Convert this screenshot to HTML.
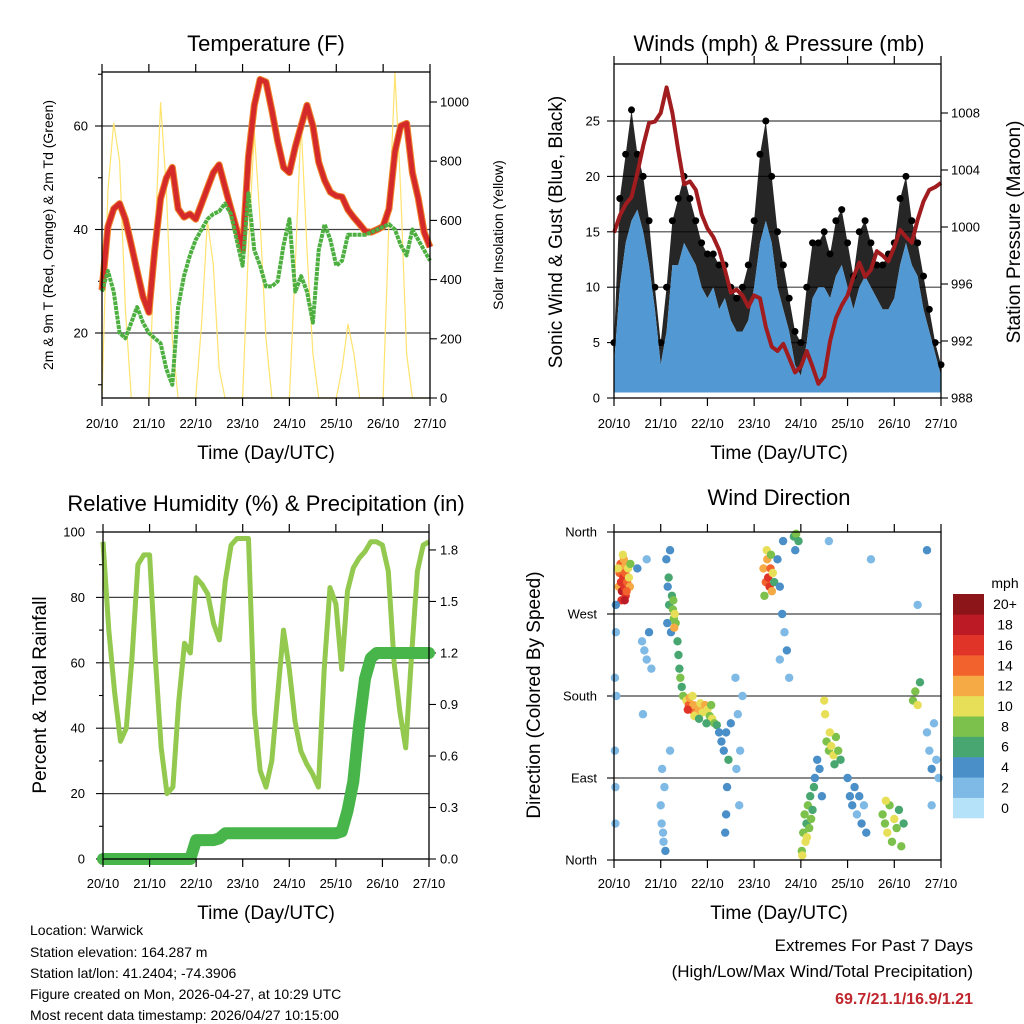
<!DOCTYPE html>
<html><head><meta charset="utf-8">
<style>
html,body{margin:0;padding:0;background:#fff;}
svg{display:block;font-family:"Liberation Sans",sans-serif;}
</style></head>
<body>
<svg id="c" width="1024" height="1024" viewBox="0 0 1024 1024" xmlns="http://www.w3.org/2000/svg">
<rect x="0" y="0" width="1024" height="1024" fill="#fff"/>
<text x="266" y="51" font-size="22" text-anchor="middle">Temperature (F)</text>
<text x="779" y="51" font-size="22" text-anchor="middle">Winds (mph) &amp; Pressure (mb)</text>
<text x="266" y="511" font-size="22" text-anchor="middle">Relative Humidity (%) &amp; Precipitation (in)</text>
<text x="779" y="505" font-size="22" text-anchor="middle">Wind Direction</text>
<text x="266" y="459" font-size="19" text-anchor="middle">Time (Day/UTC)</text>
<text x="779" y="459" font-size="19" text-anchor="middle">Time (Day/UTC)</text>
<text x="266" y="919" font-size="19" text-anchor="middle">Time (Day/UTC)</text>
<text x="779" y="919" font-size="19" text-anchor="middle">Time (Day/UTC)</text>
<text transform="translate(53,235) rotate(-90)" font-size="14" text-anchor="middle">2m &amp; 9m T (Red, Orange) &amp; 2m Td (Green)</text>
<text transform="translate(503,235) rotate(-90)" font-size="14" text-anchor="middle">Solar Insolation (Yellow)</text>
<text transform="translate(562,232) rotate(-90)" font-size="19" text-anchor="middle">Sonic Wind &amp; Gust (Blue, Black)</text>
<text transform="translate(1020,232) rotate(-90)" font-size="19" text-anchor="middle">Station Pressure (Maroon)</text>
<text transform="translate(46,695) rotate(-90)" font-size="19" text-anchor="middle">Percent &amp; Total Rainfall</text>
<text transform="translate(540,695) rotate(-90)" font-size="19" text-anchor="middle">Direction (Colored By Speed)</text>
<g font-size="14">
<text x="30" y="935">Location: Warwick</text>
<text x="30" y="957">Station elevation: 164.287 m</text>
<text x="30" y="978">Station lat/lon: 41.2404; -74.3906</text>
<text x="30" y="999">Figure created on Mon, 2026-04-27, at 10:29 UTC</text>
<text x="30" y="1020">Most recent data timestamp: 2026/04/27 10:15:00</text>
</g>
<g>
<text x="973" y="951" font-size="17" text-anchor="end">Extremes For Past 7 Days</text>
<text x="973" y="977" font-size="17" text-anchor="end">(High/Low/Max Wind/Total Precipitation)</text>
<text x="973" y="1004" font-size="16" font-weight="bold" fill="#c0262d" text-anchor="end">69.7/21.1/16.9/1.21</text>
</g>
<g id="plots"></g>
</svg>
<script>
const dayLabels = ['20/10','21/10','22/10','23/10','24/10','25/10','26/10','27/10'];
const tempTicks = [20,40,60];
const solarTicks = [0,200,400,600,800,1000];
const windTicks = [0,5,10,15,20,25];
const pressTicks = [988,992,996,1000,1004,1008];
const rhTicks = [0,20,40,60,80,100];
const precipTicks = ['0.0','0.3','0.6','0.9','1.2','1.5','1.8'];
const dirTicks = ['North','East','South','West','North'];
const speedLabels = ['0','2','4','6','8','10','12','14','16','18','20+'];
const speedColors = ['#b5e2f8','#7fb9e5','#4a8fc8','#48a770','#7bc14b','#e7df58','#f6aa45','#f1622c','#df3427','#bc1b25','#8b1519'];

const tempT = [28.3,40.5,44,45,42,37,32,27,24,36,46,50,52,44,42.4,43,42,45,48,51,52.5,48.2,44,40,36,54,64,69,68.5,63,57,52,51,56,60,64,60,53,49.5,47.2,46.5,46.3,43.8,42.3,41,39.6,39.5,40,40.6,44,55,60,60.5,51,46,39.5,36.6];
const tempTd = [28,32,28,20,19,22,25,22,20,19,18,13,10,25,31,35,38,40,42,43,43.5,45,43,38,33,47,36,33,29,29,30,37,42,28,31,28,22,36,41,38,33,34,39,39,39,39,39.5,40,40.5,41,40,37,35,40,38,36,34];
const solar = [0,700,930,800,300,0,0,0, 0,500,1000,700,200,0,0,0, 0,250,600,450,100,0,0,0, 0,500,900,600,200,0,0,0, 0,450,930,500,150,0,0,0, 0,100,250,150,0,0,0,0, 0,600,1100,700,150,0,0,0, 0];
const windBlue = [3,10,14,16,17,15,12,8,3,6,12,12,14,13,12,10,9,10,8,9,7,6,6,7,10,14,16,14,10,8,6,3,2,5,9,10,10,9,11,12,10,8,10,11,10,9,8,8,9,12,14,12,11,8,6,4,2];
const windGust = [5,18,22,26,22,20,16,10,5,10,16,18,20,18,16,14,13,13,12,12,10,9,10,12,16,22,25,20,15,12,9,6,5,10,14,14,15,13,16,17,14,11,15,16,14,12,12,13,14,18,20,16,14,11,8,5,3];
const pressure = [999.6,1000.8,1001.6,1002.1,1003.8,1005.7,1007.3,1007.4,1008,1009.8,1008,1005.4,1003,1003.2,1002.6,1000.9,999.9,999.3,998.4,997,995.4,995.6,995.2,994.4,995.2,995,993,991.6,991.3,991.8,990.8,989.8,990.2,991.3,990.2,989,989.5,992,993.6,994.5,995.2,996.5,997.5,996.5,997,998.3,998,997.6,998.6,999.8,999.3,998.9,1000.5,1001.8,1002.6,1002.8,1003.1];
const rh = [97,70,51,36,40,62,90,93,93,61,34,20,22,48,66,63,86,84,81,72,67,85,96,98,98,98,45,27,22,30,50,70,58,42,33,29,26,22,58,83,78,58,82,89,92,94,97,97,96,88,60,45,34,62,88,96,97];
const precip = [0,0,0,0,0,0,0,0,0,0,0,0,0,0,0,0,0.11,0.11,0.11,0.11,0.12,0.15,0.15,0.15,0.15,0.15,0.15,0.15,0.15,0.15,0.15,0.15,0.15,0.15,0.15,0.15,0.15,0.15,0.15,0.15,0.15,0.16,0.28,0.45,0.78,1.05,1.17,1.2,1.2,1.2,1.2,1.2,1.2,1.2,1.2,1.2,1.2];
const dirObs = [
[0.1,300,12],[0.12,315,13],[0.14,325,14],[0.15,305,16],[0.17,295,17],[0.18,320,12],[0.2,310,15],[0.21,330,11],[0.22,300,16],[0.24,315,13],[0.25,290,15],[0.26,325,12],[0.28,305,14],[0.3,320,10],[0.32,310,9],[0.34,300,11],[0.16,285,16],[0.23,285,17],[0.19,335,10],[0.27,295,13],[0.08,320,10],[0.35,325,7],
[0.02,120,1],[0.03,80,2],[0.02,200,1],[0.04,250,2],[0.03,40,1],[0.05,180,1],[0.04,280,3],
[0.6,240,2],[0.65,230,2],[0.7,220,1],[0.75,250,3],[0.8,210,1],[0.7,330,2],[0.62,160,1],
[1.0,60,2],[1.02,40,1],[1.05,30,2],[1.08,80,1],[1.03,100,2],[1.06,20,1],[1.1,10,3],
[1.12,330,4],[1.15,300,4],[1.18,280,5],[1.2,340,4],[1.14,260,3],[1.22,250,4],[1.17,310,5],[1.24,290,6],
[1.26,275,8],[1.28,265,8],[1.3,270,9],[1.27,285,7],[1.32,260,7],[1.29,255,12],
[1.36,240,6],[1.38,225,6],[1.4,210,6],[1.42,200,7],[1.45,190,6],[1.48,180,8],
[1.55,175,10],[1.6,170,13],[1.65,165,14],[1.7,170,12],[1.75,160,11],[1.8,168,12],[1.85,172,10],[1.9,162,9],[1.95,170,11],[2.0,165,10],[2.05,158,8],[2.1,155,9],[2.15,150,7],[2.2,148,5],[2.25,140,4],[1.62,178,11],[1.72,158,9],[1.82,155,6],[1.98,150,5],[2.08,170,8],[1.58,165,16],[1.68,180,10],
[2.3,130,4],[2.35,120,3],[2.4,140,4],[2.45,110,5],[2.5,150,3],[2.42,80,4],[2.4,50,4],[2.38,30,3],
[2.6,200,1],[2.65,160,1],[2.7,120,2],[2.75,180,1],[2.62,100,2],[2.68,60,2],
[3.2,320,12],[3.25,305,14],[3.28,330,11],[3.3,310,16],[3.33,300,15],[3.35,320,13],[3.38,295,12],[3.4,315,10],[3.22,290,8],[3.27,340,9],[3.36,335,8],[3.43,305,6],
[3.5,330,4],[3.55,300,3],[3.6,270,4],[3.65,250,2],[3.7,230,3],[3.55,220,2],[3.75,200,2],[3.62,350,4],
[3.85,355,6],[3.9,358,7],[3.88,340,4],[3.95,350,6],
[4.02,10,7],[4.05,30,8],[4.08,50,7],[4.1,20,9],[4.12,40,6],[4.15,60,8],[4.18,35,7],[4.2,70,6],[4.22,45,8],[4.25,55,5],[4.03,5,10],[4.13,25,10],[4.28,80,6],
[4.3,90,4],[4.35,110,4],[4.4,100,3],[4.45,70,4],
[4.55,130,8],[4.6,120,7],[4.65,125,10],[4.7,115,9],[4.75,135,8],[4.8,120,7],[4.85,110,6],[4.62,140,9],[4.72,105,5],[4.5,175,9],[4.52,160,10],
[5.0,90,4],[5.05,70,3],[5.1,60,4],[5.15,80,3],[5.2,50,2],[5.25,70,4],[5.3,40,3],[5.35,60,2],[5.4,30,4],
[5.75,50,8],[5.8,40,7],[5.85,30,9],[5.9,60,8],[5.95,20,7],[6.0,45,9],[6.05,35,8],[6.1,55,6],[6.15,15,7],[6.2,40,5],[5.82,65,10],
[6.4,175,8],[6.45,185,7],[6.5,170,10],[6.55,195,6],
[6.7,140,2],[6.75,120,2],[6.8,100,3],[6.85,150,2],[6.9,110,1],[6.95,90,2],[6.8,60,2],
[0.5,320,3],[5.5,330,2],[4.6,350,1],[6.7,340,3],[1.2,120,2],[6.5,280,2]
];

const NS='http://www.w3.org/2000/svg';
const root=document.getElementById('plots');
function mk(tag,attrs,parent){const e=document.createElementNS(NS,tag);for(const k in attrs)e.setAttribute(k,attrs[k]);(parent||root).appendChild(e);return e;}
const tOf = i => i*3/24;

function panel(name){
  const g=mk('g',{});
  
  
  return g;
}
function frame(g,L,R,T,B,name){
  const r=mk('rect',{x:L,y:T,width:R-L,height:B-T,fill:'none',stroke:'#000','stroke-width':1.3},g);
  
  
}
function xAxis(g,L,R,T,B,labY){
  for(let d=0;d<=7;d++){
    const x=L+d/7*(R-L);
    mk('line',{x1:x,x2:x,y1:T-8,y2:T,stroke:'#000','stroke-width':1.2},g);
    mk('line',{x1:x,x2:x,y1:B,y2:B+8,stroke:'#000','stroke-width':1.2},g);
    const t=mk('text',{x:x,y:labY,'font-size':13,'text-anchor':'middle'},g);
    t.textContent=dayLabels[d];
    
    
  }
}
function grid(g,L,R,y){
  mk('line',{x1:L,x2:R,y1:y,y2:y,stroke:'#222','stroke-width':1.2,'stroke-opacity':0.85},g);
}
function yLabel(g,x,y,txt,anchor,size){
  const t=mk('text',{x:x,y:y+4.5,'font-size':size||13,'text-anchor':anchor},g);
  t.textContent=txt;
  
  
}
function tick(g,x1,x2,y){mk('line',{x1:x1,x2:x2,y1:y,y2:y,stroke:'#000','stroke-width':1.1},g);}
function pts(arr,xf,yf){return arr.map((v,i)=>xf(tOf(i)).toFixed(1)+','+yf(v).toFixed(1)).join(' ');}

{
  const L=102,R=430,T=72,B=398;
  const x1=t=>L+t/7*(R-L);
  const yT=v=>333-(v-20)*5.175;
  const yS=v=>B-v*0.296;
  const g=panel('temperature-panel');
  tempTicks.forEach(v=>{grid(g,L,R,yT(v));tick(g,L-7,L,yT(v));yLabel(g,L-14,yT(v),String(v),'end');});
  [10,30,50,70].forEach(v=>tick(g,L-4,L,yT(v)));
  solarTicks.forEach(v=>{tick(g,R,R+7,yS(v));yLabel(g,R+10,yS(v),String(v),'start');});
  const sl=mk('polyline',{points:pts(solar,x1,yS),fill:'none',stroke:'#ffe36e','stroke-width':1.2},g);
  
  
  const o=mk('polyline',{points:pts(tempT,x1,yT),fill:'none',stroke:'#f0852c','stroke-width':7,'stroke-linejoin':'round'},g);
  
  
  const r=mk('polyline',{points:pts(tempT,x1,yT),fill:'none',stroke:'#d42a2a','stroke-width':5,'stroke-linejoin':'round'},g);
  
  
  const d=mk('polyline',{points:pts(tempTd,x1,yT),fill:'none',stroke:'#4caf40','stroke-width':4,'stroke-dasharray':'4 0.8','stroke-linejoin':'round'},g);
  
  
  frame(g,L,R,T,B,'temperature-plot-frame');
  xAxis(g,L,R,T,B,428);
}
{
  const L=614,R=941,T=64,B=398;
  const x2=t=>L+t/7*(R-L);
  const yW=v=>B-v*11.08;
  const yP=v=>B-(v-988)*14.25;
  const g=panel('winds-panel');
  windTicks.forEach(v=>{if(v>0)grid(g,L,R,yW(v));tick(g,L-7,L,yW(v));yLabel(g,L-14,yW(v),String(v),'end');});
  pressTicks.forEach(v=>{tick(g,R,R+7,yP(v));yLabel(g,R+10,yP(v),String(v),'start');});
  const top=windGust.map((v,i)=>x2(tOf(i)).toFixed(1)+','+yW(v).toFixed(1));
  const mid=windBlue.map((v,i)=>x2(tOf(i)).toFixed(1)+','+yW(v).toFixed(1)).reverse();
  const ga=mk('polygon',{points:top.concat(mid).join(' '),fill:'#000','fill-opacity':0.85},g);
  
  
  windGust.forEach((v,i)=>{
    const c=mk('circle',{cx:x2(tOf(i)),cy:yW(v),r:3.5,fill:'#000'},g);
    
    
  });
  const bt=windBlue.map((v,i)=>x2(tOf(i)).toFixed(1)+','+yW(v).toFixed(1));
  const ba=mk('polygon',{points:bt.concat([x2(7)+','+yW(0.5),x2(0)+','+yW(0.5)]).join(' '),fill:'#5299d3'},g);
  
  
  const p=mk('polyline',{points:pts(pressure,x2,yP),fill:'none',stroke:'#a01c1f','stroke-width':4,'stroke-linejoin':'round'},g);
  
  
  frame(g,L,R,T,B,'winds-plot-frame');
  xAxis(g,L,R,T,B,428);
}
{
  const L=103,R=429,T=532,B=859;
  const x3=t=>L+t/7*(R-L);
  const yR=v=>B-v*3.27;
  const yPr=v=>B-v*171.7;
  const g=panel('humidity-panel');
  rhTicks.forEach(v=>{if(v>0&&v<100)grid(g,L,R,yR(v));tick(g,L-7,L,yR(v));yLabel(g,L-18,yR(v),String(v),'end');});
  [10,30,50,70,90].forEach(v=>tick(g,L-4,L,yR(v)));
  precipTicks.forEach(s=>{const v=parseFloat(s);tick(g,R,R+7,yPr(v));yLabel(g,R+11,yPr(v),s,'start');});
  const h=mk('polyline',{points:pts(rh,x3,yR),fill:'none',stroke:'#92c94e','stroke-width':5,'stroke-linejoin':'round'},g);
  
  
  const pr=mk('polyline',{points:pts(precip,x3,yPr),fill:'none',stroke:'#47b549','stroke-width':12,'stroke-linejoin':'round','stroke-linecap':'round'},g);
  
  
  frame(g,L,R,T,B,'humidity-plot-frame');
  xAxis(g,L,R,T,B,888);
}
{
  const L=614,R=941,T=532,B=860;
  const x4=t=>L+t/7*(R-L);
  const yD=d=>B-d/360*(B-T);
  const g=panel('wind-direction-panel');
  dirTicks.forEach((s,i)=>{const y=yD(i*90);if(i>0&&i<4)grid(g,L,R,y);tick(g,L-7,L,y);yLabel(g,L-17,y,s,'end');});
  const colorOf=s=>speedColors[Math.min(10,Math.max(0,Math.round(s/2)))];
  dirObs.forEach(o=>{
    const c=mk('circle',{cx:x4(o[0]),cy:yD(o[1]),r:4.2,fill:colorOf(o[2])},g);
    
    
  });
  frame(g,L,R,T,B,'wind-direction-plot-frame');
  xAxis(g,L,R,T,B,888);
  const cb=mk('g',{},g);
  
  
  const bh=(818-594)/11;
  speedColors.forEach((col,i)=>{
    const y=818-(i+1)*bh;
    const b=mk('rect',{x:953,y:y,width:31,height:bh+0.3,fill:col},cb);
    
    
    const t=mk('text',{x:1005,y:y+bh/2+5,'font-size':14,'text-anchor':'middle'},cb);
    t.textContent=speedLabels[i];
    
    
  });
  const m=mk('text',{x:1005,y:588,'font-size':14,'text-anchor':'middle'},cb);
  m.textContent='mph';
  
  
}
</script>
</body></html>
